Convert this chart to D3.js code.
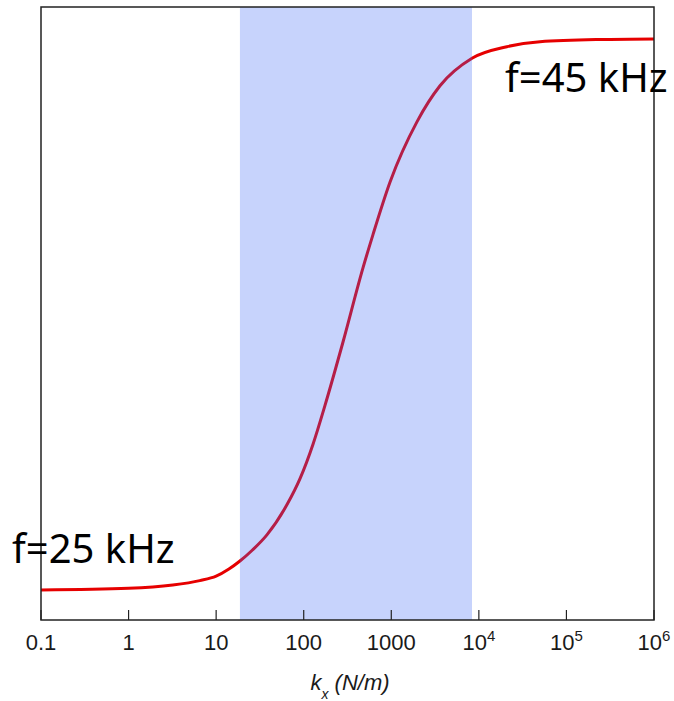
<!DOCTYPE html>
<html>
<head>
<meta charset="utf-8">
<script src="https://cdn.jsdelivr.net/npm/d3@7"></script>
<style>
  html, body { margin: 0; padding: 0; background: #fff; }
  svg { display: block; }
</style>
</head>
<body>
<div id="chart"></div>
<script>
// Resonance frequency vs. lateral stiffness k_x (log x, hidden f axis)

// stiffness values (N/m) and frequency (kHz)
const kValues = [0.1, 1, 3.2, 6.5, 10, 14, 18.7, 26, 38, 64.5, 91, 128, 175, 281, 476, 618, 966, 1970, 3600, 8350, 20900, 49900, 241000, 1e6];
const fValues = [25.0, 25.06, 25.18, 25.34, 25.5, 25.76, 26.05, 26.45, 27.0, 28.1, 29.05, 30.3, 31.7, 34.0, 36.7, 37.9, 39.8, 42.0, 43.3, 44.3, 44.72, 44.9, 44.98, 45.0];

const tickValues = [0.1, 1, 10, 100, 1000, 1e4, 1e5, 1e6];
const tickBase = ['0.1', '1', '10', '100', '1000', '10', '10', '10'];
const tickExp  = ['', '', '', '', '', '4', '5', '6'];

const bandRange = [18.7, 8350]; // shaded region on k
const annotations = [
  { text: 'f=25 kHz', x: 12, y: 563 },
  { text: 'f=45 kHz', x: 505, y: 92 }
];

const W = 674, H = 701;
const M = { left: 41, right: 20, top: 7, bottom: 81 };
const iw = W - M.left - M.right;
const ih = H - M.top - M.bottom;

const x = d3.scaleLog().domain([0.1, 1e6]).range([M.left, M.left + iw]);
const y = d3.scaleLinear().domain([23.91, 46.16]).range([M.top + ih, M.top]);

const svg = d3.select('#chart')
  .append('svg')
  .attr('width', W)
  .attr('height', H);

// curve (drawn first, band sits on top of it)
const pts = kValues.map(function(k, i) { return [k, fValues[i]]; });
const line = d3.line()
  .x(function(d) { return x(d[0]); })
  .y(function(d) { return y(d[1]); })
  .curve(d3.curveMonotoneX);

svg.append('path')
  .datum(pts)
  .attr('d', line)
  .attr('fill', 'none')
  .attr('stroke', '#e60000')
  .attr('stroke-width', 3)
  .attr('stroke-linejoin', 'round');

// translucent band
svg.append('rect')
  .attr('x', x(bandRange[0]))
  .attr('y', M.top)
  .attr('width', x(bandRange[1]) - x(bandRange[0]))
  .attr('height', ih)
  .attr('fill', '#3f69f5')
  .attr('fill-opacity', 0.29);

// frame
svg.append('rect')
  .attr('x', M.left)
  .attr('y', M.top)
  .attr('width', iw)
  .attr('height', ih)
  .attr('fill', 'none')
  .attr('stroke', '#222')
  .attr('stroke-width', 1.5);

// inward ticks on bottom axis
svg.append('g')
  .selectAll('line')
  .data(tickValues)
  .join('line')
  .attr('x1', function(d) { return x(d); })
  .attr('x2', function(d) { return x(d); })
  .attr('y1', M.top + ih)
  .attr('y2', M.top + ih - 10)
  .attr('stroke', '#222')
  .attr('stroke-width', 1.2);

// tick labels
const lbl = svg.append('g')
  .attr('font-family', 'Liberation Sans, Arial, sans-serif')
  .attr('font-size', 22)
  .attr('fill', '#1a1a1a');

tickValues.forEach(function(v, i) {
  const t = lbl.append('text')
    .attr('x', x(v))
    .attr('y', 650)
    .attr('text-anchor', 'middle');
  t.append('tspan').text(tickBase[i]);
  if (tickExp[i]) {
    t.append('tspan')
      .attr('dy', -9)
      .attr('font-size', 15)
      .text(tickExp[i]);
  }
});

// axis title: k_x (N/m)
const title = svg.append('text')
  .attr('x', 350)
  .attr('y', 690)
  .attr('text-anchor', 'middle')
  .attr('font-family', 'Liberation Sans, Arial, sans-serif')
  .attr('font-style', 'italic')
  .attr('font-size', 22)
  .attr('fill', '#1a1a1a');
title.append('tspan').text('k');
title.append('tspan').attr('dy', 9).attr('font-size', 14).text('x');
title.append('tspan').attr('dy', -9).text(' (N/m)');

// annotations
svg.append('g')
  .selectAll('text')
  .data(annotations)
  .join('text')
  .attr('x', function(d) { return d.x; })
  .attr('y', function(d) { return d.y; })
  .attr('font-family', 'Noto Sans, Open Sans, sans-serif')
  .attr('font-size', 40)
  .attr('fill', '#000')
  .text(function(d) { return d.text; });
</script>
</body>
</html>
